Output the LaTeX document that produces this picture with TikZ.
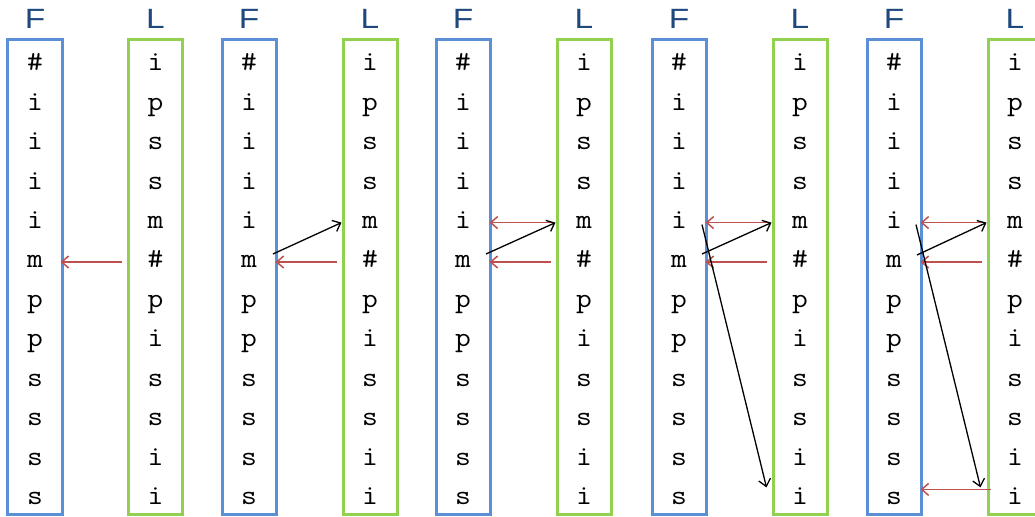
\documentclass[tikz,border=0pt]{standalone}
\usepackage{fontspec}
\setmainfont{Liberation Sans}
\usetikzlibrary{arrows.meta}
\definecolor{fblue}{HTML}{5B8FD6}
\definecolor{lgreen}{HTML}{92D050}
\definecolor{navy}{HTML}{1F497D}
\definecolor{arrred}{HTML}{C0504D}
\tikzset{
  fcol/.style={draw=fblue, line width=3bp, minimum width=54bp, minimum height=474bp, inner sep=0pt},
  lcol/.style={draw=lgreen, line width=3bp, minimum width=54bp, minimum height=474bp, inner sep=0pt},
  letter/.style={font=\ttfamily\fontsize{28}{28}\selectfont, text height=12bp, text depth=0pt, inner sep=0pt},
  head/.style={font=\fontsize{28}{28}\selectfont, text=navy, inner sep=0pt},
  redarr/.style={draw=arrred, line width=1.5bp, -{Straight Barb[length=7bp,width=12bp]}},
  blkarr/.style={draw=black, line width=1.3bp, -{Straight Barb[length=7bp,width=12bp]}}
}
\begin{document}
\begin{tikzpicture}[x=1bp,y=-1bp]
\useasboundingbox (0,0) rectangle (1035,517);
\clip (0,0) rectangle (1035,517);
\foreach \k/\fx/\lx in {1/35/155.5, 2/249/370, 3/463/584, 4/679/800, 5/894/1015}{
  \node[fcol] (FB\k) at (\fx,277) {};
  \node[lcol] (LB\k) at (\lx,277) {};
  \node[head] (FH\k) at (\fx,19) {\scalebox{1.2}[1]{F}};
  \node[head] (LH\k) at (\lx,19) {\scalebox{1.2}[1]{L}};
  \foreach \c [count=\r from 0] in {\#,i,i,i,i,m,p,p,s,s,s,s}{
    \node[letter] (F\k-\r) at (\fx,65+39.4*\r) {\scalebox{1.1}[1]{\c}};
  }
  \foreach \c [count=\r from 0] in {i,p,s,s,m,\#,p,i,s,s,i,i}{
    \node[letter] (L\k-\r) at (\lx,65+39.4*\r) {\scalebox{1.1}[1]{\c}};
  }
}
% pair 1
\draw[redarr] ([xshift=-5bp]LB1.west |- L1-5) -- ([xshift=-3bp]FB1.east |- F1-5);
% pair 2
\draw[blkarr] ([xshift=24bp,yshift=8bp]F2-5.center) -- ([xshift=0bp]LB2.west |- L2-4);
\draw[redarr] ([xshift=-5bp]LB2.west |- L2-5) -- ([xshift=-2bp]FB2.east |- F2-5);
% pair 3
\draw[redarr] ([xshift=-3bp]LB3.west |- L3-4) -- ([xshift=-2bp]FB3.east |- F3-4);
\draw[blkarr] ([xshift=23bp,yshift=8bp]F3-5.center) -- ([xshift=0bp]LB3.west |- L3-4);
\draw[redarr] ([xshift=-5bp]LB3.west |- L3-5) -- ([xshift=-2bp]FB3.east |- F3-5);
% pair 4
\draw[redarr] ([xshift=-2bp]LB4.west |- L4-4) -- ([xshift=-2bp]FB4.east |- F4-4);
\draw[blkarr] ([xshift=23bp,yshift=8bp]F4-5.center) -- ([xshift=0bp]LB4.west |- L4-4);
\draw[redarr] ([xshift=-5bp]LB4.west |- L4-5) -- ([xshift=-2bp]FB4.east |- F4-5);
\draw[blkarr] ([xshift=23bp,yshift=-2bp]F4-4.center) -- ([xshift=-5bp,yshift=11bp]LB4.west |- L4-11);
% pair 5
\draw[redarr] ([xshift=-2bp]LB5.west |- L5-4) -- ([xshift=-2bp]FB5.east |- F5-4);
\draw[blkarr] ([xshift=23bp,yshift=7bp]F5-5.center) -- ([xshift=0bp]LB5.west |- L5-4);
\draw[redarr] ([xshift=-5bp]LB5.west |- L5-5) -- ([xshift=-2bp]FB5.east |- F5-5);
\draw[blkarr] ([xshift=22bp,yshift=-2bp]F5-4.center) -- ([xshift=-6bp,yshift=11bp]LB5.west |- L5-11);
\draw[redarr] ([xshift=4bp,yshift=9bp]LB5.west |- L5-11) -- ([xshift=-2bp,yshift=9bp]FB5.east |- F5-11);
\end{tikzpicture}
\end{document}
